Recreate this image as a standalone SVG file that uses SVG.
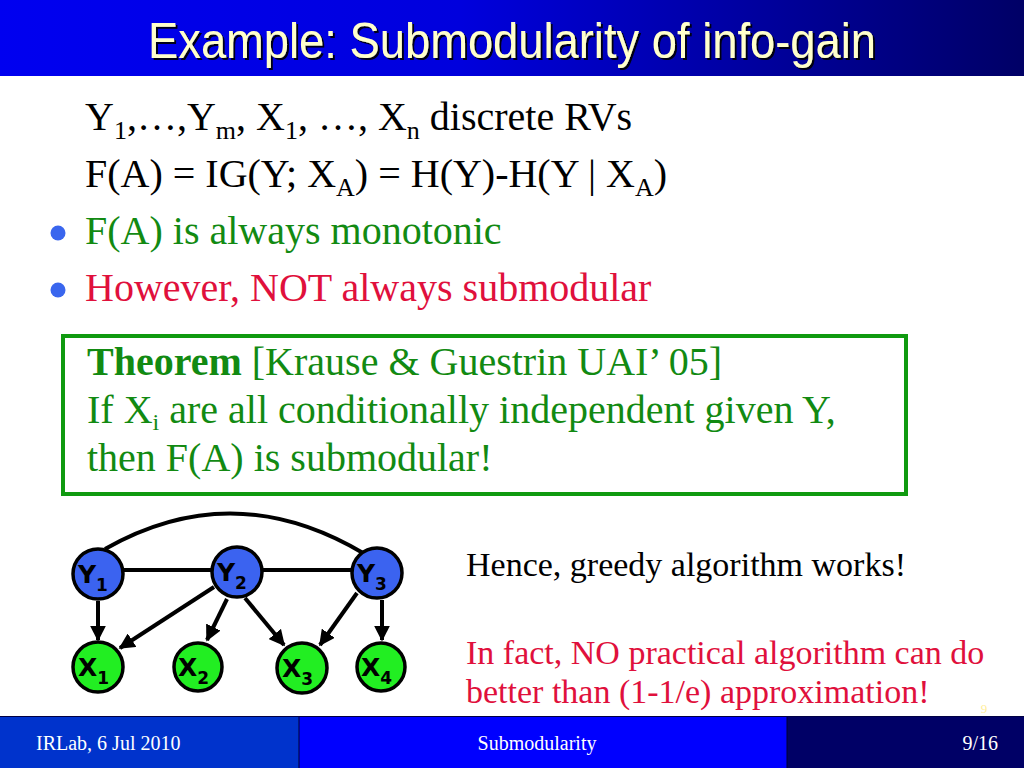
<svg xmlns="http://www.w3.org/2000/svg" width="1024" height="768" viewBox="0 0 1024 768">
<defs>
<linearGradient id="tg" x1="0" y1="0" x2="1" y2="0">
<stop offset="0" stop-color="#0000f0"/>
<stop offset="0.45" stop-color="#0000dd"/>
<stop offset="1" stop-color="#000066"/>
</linearGradient>
<marker id="ah" viewBox="0 0 10 10" refX="9" refY="5" markerWidth="4" markerHeight="4" orient="auto" markerUnits="strokeWidth">
<path d="M0,0 L10,5 L0,10 z" fill="#000"/>
</marker>
<filter id="sh" x="-5%" y="-20%" width="110%" height="140%">
<feGaussianBlur in="SourceAlpha" stdDeviation="0.6"/>
<feOffset dx="2" dy="2" result="o"/>
<feFlood flood-color="#000000" flood-opacity="0.9"/>
<feComposite in2="o" operator="in"/>
<feMerge><feMergeNode/><feMergeNode in="SourceGraphic"/></feMerge>
</filter>
</defs>
<style>
.body{font-family:"Liberation Serif","Times New Roman",serif;font-size:40px}
.blk{fill:#000}
.grn{fill:#128a12}
.red{fill:#e0103c}
.sub{font-size:26px}
.foot{font-family:"Liberation Serif","Times New Roman",serif;font-size:20px;fill:#ffffff}
.side{font-family:"Liberation Serif","Times New Roman",serif;font-size:34px}
.nl{font-family:"DejaVu Sans",Verdana,sans-serif;font-weight:bold;font-size:25px;fill:#000}
.ns{font-size:17px}
.ynode{fill:#3b63f0;stroke:#000;stroke-width:3.5}
.xnode{fill:#22ee22;stroke:#000;stroke-width:3.5}
.edge{stroke:#000;stroke-width:4;fill:none}
.arr{stroke:#000;stroke-width:4;fill:none;marker-end:url(#ah)}
</style>
<rect width="1024" height="768" fill="#ffffff"/>
<rect x="0" y="0" width="1024" height="76" fill="url(#tg)"/>
<text x="148" y="58" textLength="728" lengthAdjust="spacingAndGlyphs" font-family="'Liberation Sans',Arial,sans-serif" font-size="50" fill="#ffffcc" filter="url(#sh)">Example: Submodularity of info-gain</text>

<text class="body blk" x="85" y="130">Y<tspan class="sub" dy="9">1</tspan><tspan dy="-9">,…,Y</tspan><tspan class="sub" dy="9">m</tspan><tspan dy="-9">, X</tspan><tspan class="sub" dy="9">1</tspan><tspan dy="-9">, …, X</tspan><tspan class="sub" dy="9">n</tspan><tspan dy="-9"> discrete RVs</tspan></text>
<text class="body blk" x="85" y="187">F(A) = IG(Y; X<tspan class="sub" dy="9">A</tspan><tspan dy="-9">) = H(Y)-H(Y | X</tspan><tspan class="sub" dy="9">A</tspan><tspan dy="-9">)</tspan></text>
<circle cx="58" cy="233" r="7.5" fill="#3a66ee"/>
<text class="body grn" x="85" y="244">F(A) is always monotonic</text>
<circle cx="58" cy="290" r="7.5" fill="#3a66ee"/>
<text class="body red" x="85" y="301">However, NOT always submodular</text>

<rect x="63" y="336" width="843" height="158" fill="none" stroke="#109a10" stroke-width="4"/>
<text class="body grn" x="87" y="375"><tspan font-weight="bold">Theorem</tspan> [Krause &amp; Guestrin UAI’ 05]</text>
<text class="body grn" x="87" y="423">If X<tspan font-size="24" dy="7">i</tspan><tspan dy="-7"> are all conditionally independent given Y,</tspan></text>
<text class="body grn" x="87" y="471">then F(A) is submodular!</text>

<g id="connectors">
<path class="edge" d="M105,549 Q233,476 363,553"/>
<line class="edge" x1="124" y1="570" x2="211" y2="570"/>
<line class="edge" x1="263" y1="570" x2="351" y2="570"/>
<line class="arr" x1="98" y1="601" x2="98" y2="640"/>
<line class="arr" x1="214" y1="587" x2="120" y2="648"/>
<line class="arr" x1="227" y1="599" x2="207" y2="640"/>
<line class="arr" x1="245" y1="598" x2="284" y2="645"/>
<line class="arr" x1="357" y1="593" x2="320" y2="645"/>
<line class="arr" x1="382" y1="600" x2="382" y2="640"/>
</g>

<g id="Y1"><circle class="ynode" cx="98" cy="574" r="25"/><text class="nl" x="78" y="583">Y<tspan class="ns" dy="8">1</tspan></text></g>
<g id="Y2"><circle class="ynode" cx="237" cy="572" r="25"/><text class="nl" x="217" y="581">Y<tspan class="ns" dy="8">2</tspan></text></g>
<g id="Y3"><circle class="ynode" cx="377" cy="573" r="25"/><text class="nl" x="357" y="582">Y<tspan class="ns" dy="8">3</tspan></text></g>
<g id="X1"><circle class="xnode" cx="98" cy="667" r="25"/><text class="nl" x="78" y="676">X<tspan class="ns" dy="8">1</tspan></text></g>
<g id="X2"><circle class="xnode" cx="198" cy="667" r="24"/><text class="nl" x="178" y="676">X<tspan class="ns" dy="8">2</tspan></text></g>
<g id="X3"><circle class="xnode" cx="302" cy="668" r="25"/><text class="nl" x="282" y="677">X<tspan class="ns" dy="8">3</tspan></text></g>
<g id="X4"><circle class="xnode" cx="381" cy="667" r="24"/><text class="nl" x="361" y="676">X<tspan class="ns" dy="8">4</tspan></text></g>

<text class="side blk" x="466" y="576">Hence, greedy algorithm works!</text>
<text class="side red" x="466" y="664">In fact, NO practical algorithm can do</text>
<text class="side red" x="466" y="703">better than (1-1/e) approximation!</text>
<text x="984" y="713" text-anchor="middle" font-family="'Liberation Serif','Times New Roman',serif" font-size="13" fill="#ffee99">9</text>

<rect x="0" y="716" width="299" height="52" fill="#0033cc"/>
<rect x="299" y="716" width="488" height="52" fill="#0000ff"/>
<rect x="787" y="716" width="237" height="52" fill="#000066"/>
<line x1="299" y1="716" x2="299" y2="768" stroke="#000033" stroke-width="1"/>
<line x1="787" y1="716" x2="787" y2="768" stroke="#000033" stroke-width="1"/>
<line x1="0" y1="716.5" x2="1024" y2="716.5" stroke="#000044" stroke-width="1"/>
<text class="foot" x="36" y="750">IRLab, 6 Jul 2010</text>
<text class="foot" x="537" y="750" text-anchor="middle">Submodularity</text>
<text class="foot" x="998" y="750" text-anchor="end">9/16</text>
</svg>
